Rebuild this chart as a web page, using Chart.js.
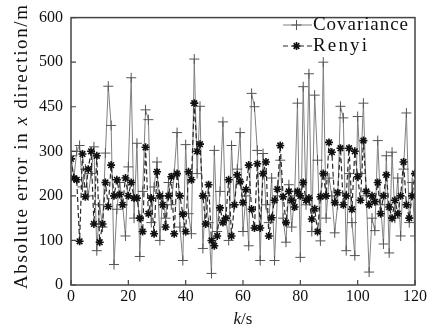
<!DOCTYPE html>
<html><head><meta charset="utf-8">
<script src="https://cdn.jsdelivr.net/npm/chart.js@4"></script>
<style>html,body{margin:0;padding:0;background:#fff}#wrap{width:438px;height:329px}</style>
</head><body><div id="wrap"><canvas id="c" width="438" height="329"></canvas></div>
<script>
const kSeconds = [0,1,2,3,4,5,6,7,8,9,10,11,12,13,14,15,16,17,18,19,20,21,22,23,24,25,26,27,28,29,30,31,32,33,34,35,36,37,38,39,40,41,42,43,44,45,46,47,48,49,50,51,52,53,54,55,56,57,58,59,60,61,62,63,64,65,66,67,68,69,70,71,72,73,74,75,76,77,78,79,80,81,82,83,84,85,86,87,88,89,90,91,92,93,94,95,96,97,98,99,100,101,102,103,104,105,106,107,108,109,110,111,112,113,114,115,116,117,118,119,120];
const covarianceError = [290,240,300,313,220,260,200,250,310,77,180,130,296,446,358,46,170,230,180,110,265,465,150,318,64,210,393,371,140,220,276,100,200,150,230,180,250,342,130,55,315,160,115,507,250,401,82,200,140,26,302,120,210,366,150,100,313,180,260,342,120,200,88,430,400,302,55,295,180,140,240,55,200,280,150,96,225,130,200,408,62,445,180,474,120,426,280,99,500,150,240,200,117,180,401,375,77,250,140,66,378,250,408,200,29,150,122,324,180,92,290,72,298,150,240,110,260,386,140,230,110];
const renyiError = [283,240,236,98,294,198,260,300,137,290,96,137,230,176,269,200,236,203,180,240,200,230,195,195,150,120,309,160,195,115,254,200,180,130,200,243,115,250,200,159,120,254,236,408,300,316,200,137,225,100,88,110,173,140,150,236,110,180,247,232,185,214,269,170,128,272,128,250,276,110,151,190,215,313,198,140,210,190,175,210,200,230,190,195,148,171,120,198,250,200,320,298,185,207,307,180,200,307,170,300,243,190,324,210,180,200,187,230,160,200,247,175,150,190,160,200,276,180,150,200,250];
const xTicks = [0,20,40,60,80,100,120];
const yTicks = [0,100,200,300,400,500,600];
const yTickLabels = ['0','100','200','300','450','500','600'];
const seriesNames = ['Covariance','Renyi'];

const SERIF = '"Liberation Serif","Times New Roman",serif';

function spacedText(ctx, text, x, y, size, target, italicIdx){
  const chars = text.split('');
  let natural = 0;
  const widths = chars.map((c,i)=>{ ctx.font = (i===italicIdx?'italic ':'') + size + 'px ' + SERIF; const w = ctx.measureText(c).width; natural += w; return w; });
  const extra = target ? (target - natural) / (chars.length - 1) : 0;
  let px = x;
  chars.forEach((c,i)=>{ ctx.font = (i===italicIdx?'italic ':'') + size + 'px ' + SERIF; ctx.textAlign='left'; ctx.fillText(c, px, y); px += widths[i] + extra; });
}

const decor = {
  id:'decor',
  afterDraw(chart){
    const ctx = chart.ctx, a = chart.chartArea;
    const xs = chart.scales.x, ys = chart.scales.y;
    ctx.save();
    // frame
    ctx.strokeStyle = '#444'; ctx.lineWidth = 1.5;
    ctx.strokeRect(a.left, a.top, a.right - a.left, a.bottom - a.top);
    // inward ticks
    ctx.lineWidth = 1.2;
    ctx.beginPath();
    xTicks.forEach(v=>{ const px = xs.getPixelForValue(v); ctx.moveTo(px, a.bottom); ctx.lineTo(px, a.bottom-5); });
    yTicks.forEach(v=>{ const py = ys.getPixelForValue(v); ctx.moveTo(a.left, py); ctx.lineTo(a.left+5, py); });
    ctx.stroke();
    // legend
    const ds = chart.data.datasets;
    const lx0 = 283, lx1 = 312;
    const targets = {Covariance:95, Renyi:54};
    seriesNames.forEach((name,i)=>{
      const d = ds.find(s=>s.label===name);
      const y = 25 + i*21;
      ctx.save();
      ctx.strokeStyle = d.borderColor; ctx.lineWidth = d.borderWidth;
      ctx.setLineDash(d.borderDash || []);
      ctx.beginPath(); ctx.moveTo(lx0, y); ctx.lineTo(lx1, y); ctx.stroke();
      ctx.restore();
      ctx.save();
      ctx.strokeStyle = d.pointBorderColor; ctx.fillStyle = d.pointBackgroundColor; ctx.lineWidth = d.pointBorderWidth;
      Chart.helpers.drawPoint(ctx, {pointStyle:d.pointStyle, radius:d.pointRadius, borderWidth:d.pointBorderWidth}, (lx0+lx1)/2 - 1, y);
      ctx.restore();
      ctx.fillStyle = '#111'; ctx.textBaseline = 'middle';
      spacedText(ctx, name, lx1 + 1, y, 19, targets[name], -1);
    });
    // x title
    ctx.fillStyle = '#111'; ctx.textBaseline = 'middle';
    const parts = [['k','italic 17px '+SERIF],['/s','17px '+SERIF]];
    let tw = 0; parts.forEach(p=>{ctx.font=p[1]; tw += ctx.measureText(p[0]).width;});
    let cx = (a.left + a.right)/2 - tw/2;
    parts.forEach(p=>{ctx.font=p[1]; ctx.textAlign='left'; ctx.fillText(p[0], cx, 320); cx += ctx.measureText(p[0]).width;});
    // y title (rotated, letter-spaced)
    const ytitle = 'Absolute error in x direction/m';
    const italicIdx = ytitle.indexOf(' x ') + 1;
    const target = 284;
    ctx.translate(22, 147);
    ctx.rotate(-Math.PI/2);
    spacedText(ctx, ytitle, -target/2, 0, 19, target, italicIdx);
    ctx.restore();
  }
};

const mk = (vals) => kSeconds.map((k,i)=>({x:k, y:vals[i]}));

new Chart(document.getElementById('c'), {
  type:'line',
  data:{ datasets:[
    { label:seriesNames[1], data:mk(renyiError), order:0,
      borderColor:'#2a2a2a', backgroundColor:'#111', borderWidth:1.2, borderDash:[5,3],
      pointStyle:'star', pointRadius:4, pointBorderWidth:1.6, pointBorderColor:'#111', pointBackgroundColor:'#111', tension:0 },
    { label:seriesNames[0], data:mk(covarianceError), order:1,
      borderColor:'#808080', backgroundColor:'#666', borderWidth:1,
      pointStyle:'cross', pointRadius:5, pointBorderWidth:1, pointBorderColor:'#555', pointBackgroundColor:'#555', tension:0 }
  ]},
  options:{
    responsive:false, animation:false, devicePixelRatio:1,
    layout:{padding:{top:13,right:23,left:0,bottom:0}},
    plugins:{legend:{display:false}, tooltip:{enabled:false}},
    scales:{
      x:{ type:'linear', min:0, max:120, afterBuildTicks(s){ s.ticks = xTicks.map(v=>({value:v})); },
          grid:{display:false, drawTicks:false}, border:{display:false},
          ticks:{font:{family:SERIF,size:16}, color:'#111', padding:2, maxRotation:0},
          afterFit(s){ s.height = 44; } },
      y:{ min:0, max:600, afterBuildTicks(s){ s.ticks = yTicks.map(v=>({value:v})); },
          grid:{display:false, drawTicks:false}, border:{display:false},
          ticks:{font:{family:SERIF,size:16}, color:'#111', padding:8,
                 callback:(v)=> yTickLabels[yTicks.indexOf(v)] },
          afterFit(s){ s.width = 71; } }
    }
  },
  plugins:[decor]
});
</script></body></html>
